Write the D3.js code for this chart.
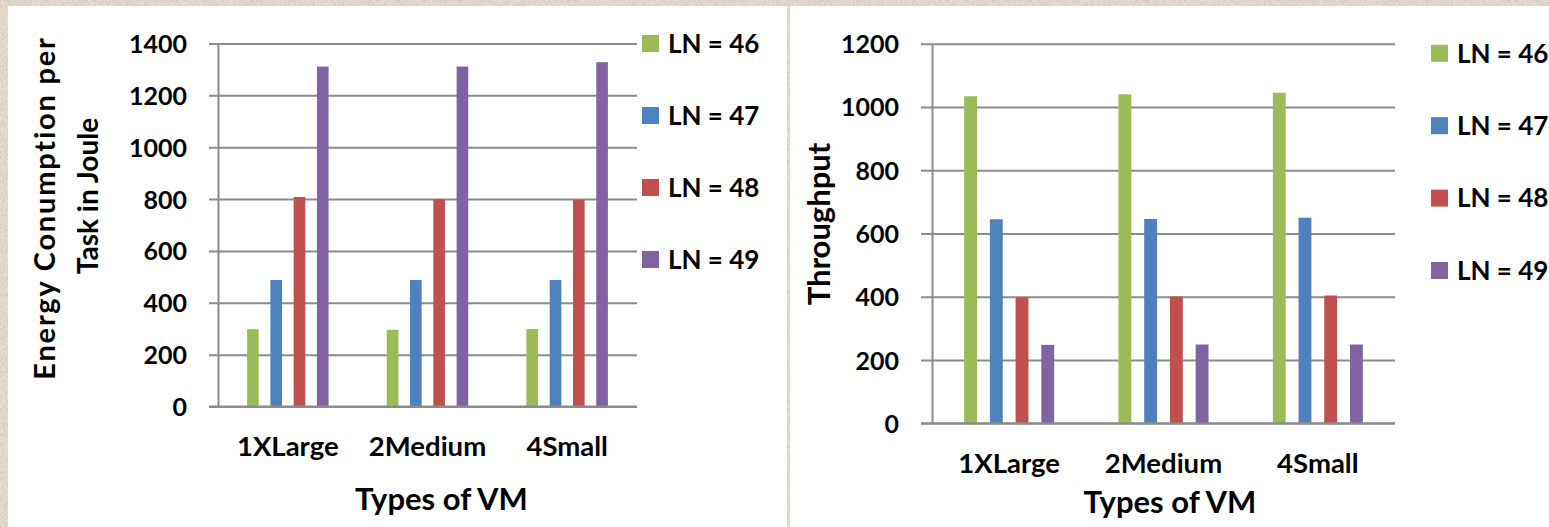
<!DOCTYPE html>
<html>
<head>
<meta charset="utf-8">
<script src="https://cdn.jsdelivr.net/npm/d3@7"></script>
<style>
  html, body { margin: 0; padding: 0; background: #e5ddd0; }
  svg { display: block; }
  text { font-family: Lato, "Open Sans", sans-serif; font-weight: 700; fill: #000; }
</style>
</head>
<body>
<svg id="chart" width="1549" height="527"></svg>
<script>
// ---- data ----
const categories = ["1XLarge", "2Medium", "4Small"];
const seriesNames = ["LN = 46", "LN = 47", "LN = 48", "LN = 49"];
const seriesColors = ["#9bbb59", "#4f81bd", "#c0504d", "#8064a2"];

// energy consumption per task (Joule)
const energyLN46 = [298, 296, 299];
const energyLN47 = [488, 488, 488];
const energyLN48 = [808, 800, 797];
const energyLN49 = [1311, 1311, 1328];
const energyTicks = [0, 200, 400, 600, 800, 1000, 1200, 1400];

// throughput
const throughputLN46 = [1034, 1040, 1045];
const throughputLN47 = [645, 646, 650];
const throughputLN48 = [398, 401, 404];
const throughputLN49 = [248, 249, 249];
const throughputTicks = [0, 200, 400, 600, 800, 1000, 1200];

const xAxisTitle = "Types of VM";

// ---- page background: parchment texture with two white panels ----
const svg = d3.select("#chart");
const defs = svg.append("defs");
const f = defs.append("filter").attr("id", "paper").attr("x", 0).attr("y", 0).attr("width", 1).attr("height", 1);
f.append("feTurbulence").attr("type", "fractalNoise").attr("baseFrequency", "0.9 0.35").attr("numOctaves", 3).attr("seed", 4).attr("result", "n");
f.append("feColorMatrix").attr("in", "n").attr("type", "matrix")
  .attr("values", "0 0 0 0 0.55  0 0 0 0 0.50  0 0 0 0 0.42  0 0 0 -1.6 1.0").attr("result", "speck");
f.append("feFlood").attr("flood-color", "#e6ded1").attr("result", "base");
f.append("feComposite").attr("in", "speck").attr("in2", "base").attr("operator", "over");
svg.append("rect").attr("width", 1549).attr("height", 527).attr("filter", "url(#paper)");

svg.append("rect").attr("x", 8).attr("y", 6).attr("width", 779).attr("height", 521).attr("fill", "#fff");
svg.append("rect").attr("x", 790).attr("y", 6).attr("width", 759).attr("height", 521).attr("fill", "#fff");

// ---- one clustered bar chart ----
function drawChart(cfg) {
  const g = svg.append("g");
  const y = d3.scaleLinear().domain([0, d3.max(cfg.ticks)]).range([cfg.bottom, cfg.top]);
  const x0 = d3.scaleBand().domain(categories).range([cfg.left, cfg.right]);
  const x1 = d3.scaleBand().domain(seriesNames).range([0, x0.bandwidth()])
    .paddingInner(0.5).paddingOuter(1.25);

  // gridlines + value axis
  const yAxis = d3.axisLeft(y).tickValues(cfg.ticks).tickFormat(d3.format("d"))
    .tickSizeInner(-(cfg.right - cfg.left)).tickSizeOuter(0).tickPadding(cfg.labelPad);
  const ay = g.append("g").attr("transform", `translate(${cfg.left},0)`).call(yAxis);
  ay.select(".domain").attr("stroke", "#8c8c8c").attr("stroke-width", 2);
  ay.selectAll(".tick line").attr("stroke", "#8c8c8c").attr("stroke-width", 2).attr("x1", -cfg.tickOut);
  ay.selectAll(".tick text").attr("font-size", cfg.tickFont).attr("font-family", "Lato").attr("font-weight", 700).attr("dy", "0.36em");

  // bars
  const series = cfg.values.map((vals, i) => ({ name: seriesNames[i], color: seriesColors[i], vals }));
  series.forEach(s => {
    g.append("g").selectAll("rect").data(s.vals).join("rect")
      .attr("x", (d, j) => x0(categories[j]) + x1(s.name))
      .attr("width", x1.bandwidth())
      .attr("y", d => y(d))
      .attr("height", d => y(0) - y(d))
      .attr("fill", s.color);
  });

  // redraw baseline on top of bars
  g.append("line").attr("x1", cfg.left - cfg.tickOut).attr("x2", cfg.right)
    .attr("y1", y(0)).attr("y2", y(0)).attr("stroke", "#8c8c8c").attr("stroke-width", 2);

  // category labels
  g.append("g").selectAll("text").data(categories).join("text")
    .attr("x", d => x0(d) + x0.bandwidth() / 2)
    .attr("y", cfg.catBaseline)
    .attr("text-anchor", "middle").attr("font-size", cfg.catFont)
    .text(d => d);

  // x axis title
  g.append("text").attr("x", cfg.xTitleX).attr("y", cfg.xTitleY)
    .attr("text-anchor", "middle").attr("font-size", cfg.titleFont).text(xAxisTitle);

  // y axis title (one or more lines)
  cfg.yTitle.forEach(t => {
    g.append("text").attr("transform", `translate(${t.x},${t.y}) rotate(-90)`)
      .attr("text-anchor", "middle").attr("font-size", t.size)
      .attr("letter-spacing", t.spacing || 0).text(t.text);
  });

  // legend
  const lg = g.append("g").selectAll("g").data(series).join("g")
    .attr("transform", (d, i) => `translate(${cfg.legendX},${cfg.legendY + i * cfg.legendStep})`);
  lg.append("rect").attr("x", 0).attr("y", -8.5).attr("width", 17).attr("height", 17).attr("fill", d => d.color);
  lg.append("text").attr("x", 26).attr("y", 0).attr("dy", "0.36em").attr("font-size", cfg.legendFont).text(d => d.name);
}

drawChart({
  values: [energyLN46, energyLN47, energyLN48, energyLN49],
  ticks: energyTicks,
  left: 218, right: 637, top: 43.5, bottom: 406.5,
  tickOut: 9, labelPad: 31,
  tickFont: 25, catFont: 27.5, legendFont: 26, titleFont: 31,
  catBaseline: 456,
  xTitleX: 441.5, xTitleY: 510,
  yTitle: [
    { text: "Energy Conumption per", x: 55, y: 208, size: 29, spacing: 1.8 },
    { text: "Task in Joule", x: 98, y: 196, size: 28 }
  ],
  legendX: 642, legendY: 43.5, legendStep: 72
});

drawChart({
  values: [throughputLN46, throughputLN47, throughputLN48, throughputLN49],
  ticks: throughputTicks,
  left: 932, right: 1395, top: 43.7, bottom: 423.3,
  tickOut: 11, labelPad: 33,
  tickFont: 25, catFont: 27.5, legendFont: 26, titleFont: 31,
  catBaseline: 473,
  xTitleX: 1170, xTitleY: 513,
  yTitle: [
    { text: "Throughput", x: 830, y: 224, size: 31 }
  ],
  legendX: 1431, legendY: 53.3, legendStep: 72.4
});
</script>
</body>
</html>
